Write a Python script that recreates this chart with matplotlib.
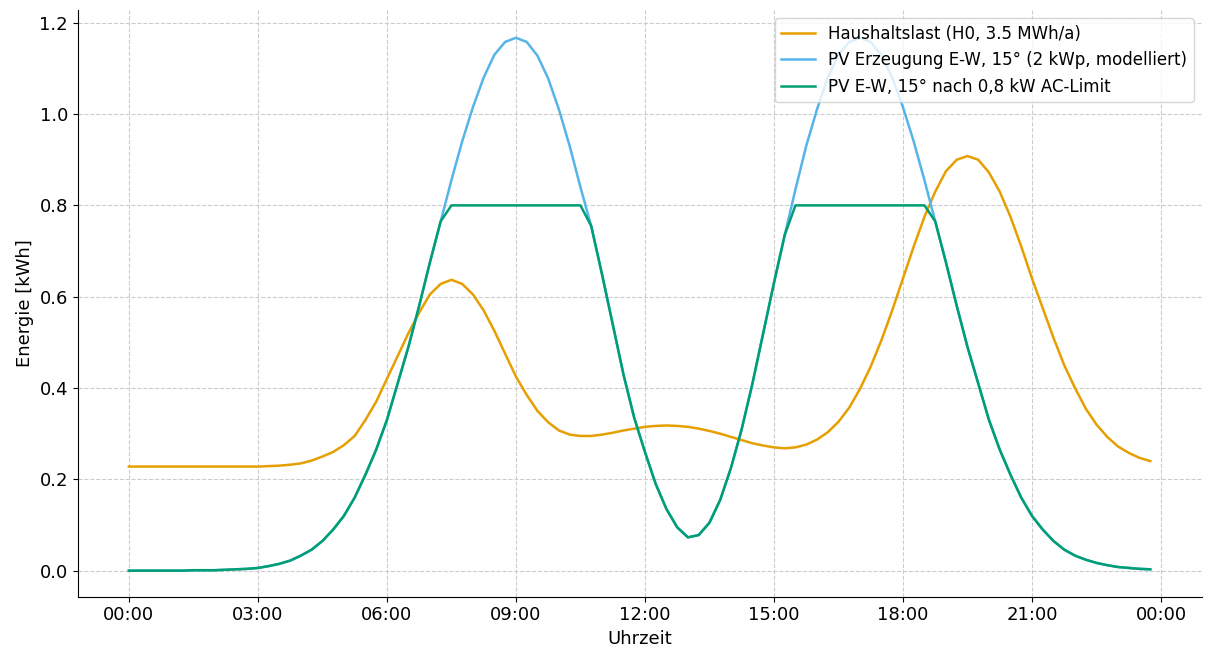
import numpy as np
import matplotlib.pyplot as plt

# 15-minute steps, 00:00 .. 23:45
hours = np.arange(96) * 0.25

load = [0.228] * 12 + [
    0.228, 0.229, 0.230, 0.232, 0.235, 0.241, 0.250, 0.260,
    0.275, 0.295, 0.330, 0.370, 0.420, 0.470, 0.520, 0.565,
    0.605, 0.628, 0.637, 0.628, 0.605, 0.570, 0.525, 0.475,
    0.425, 0.385, 0.350, 0.325, 0.307, 0.298, 0.295, 0.295,
    0.298, 0.302, 0.307, 0.311, 0.315, 0.317, 0.318, 0.317,
    0.315, 0.311, 0.306, 0.300, 0.293, 0.286, 0.279, 0.274,
    0.270, 0.268, 0.270, 0.276, 0.287, 0.303, 0.326, 0.357,
    0.398, 0.447, 0.505, 0.570, 0.640, 0.710, 0.775, 0.830,
    0.875, 0.900, 0.908, 0.900, 0.872, 0.830, 0.775, 0.710,
    0.640, 0.575, 0.510, 0.450, 0.400, 0.355, 0.320, 0.293,
    0.272, 0.258, 0.247, 0.240,
]

pv = [
    0, 0, 0, 0, 0, 0, 0.001, 0.001, 0.001, 0.002, 0.003, 0.004,
    0.006, 0.010, 0.015, 0.022, 0.033, 0.046, 0.065, 0.090,
    0.120, 0.160, 0.210, 0.265, 0.330, 0.410, 0.490, 0.580,
    0.675, 0.765, 0.855, 0.940, 1.015, 1.080, 1.130, 1.158,
    1.167, 1.158, 1.128, 1.078, 1.010, 0.930, 0.840, 0.755,
    0.650, 0.540, 0.430, 0.335, 0.260, 0.190, 0.135, 0.095,
    0.073, 0.078, 0.105, 0.155, 0.225, 0.310, 0.410, 0.520,
    0.630, 0.735, 0.835, 0.930, 1.010, 1.080, 1.130, 1.158,
    1.167, 1.158, 1.128, 1.080, 1.015, 0.940, 0.855, 0.765,
    0.675, 0.580, 0.490, 0.410, 0.330, 0.265, 0.210, 0.160,
    0.120, 0.090, 0.065, 0.046, 0.033, 0.024, 0.017, 0.012,
    0.008, 0.006, 0.004, 0.003,
]
AC_LIMIT = 0.8
pv_limited = np.minimum(pv, AC_LIMIT)

xticks = [0, 3, 6, 9, 12, 15, 18, 21, 24]
xticklabels = ["00:00", "03:00", "06:00", "09:00", "12:00", "15:00", "18:00", "21:00", "00:00"]

fig, ax = plt.subplots(figsize=(12.14, 6.63), dpi=100)
ax.plot(hours, load, color="#E69F00", linewidth=1.8, label="Haushaltslast (H0, 3.5 MWh/a)")
ax.plot(hours, pv, color="#56B4E9", linewidth=1.8, label="PV Erzeugung E-W, 15° (2 kWp, modelliert)")
ax.plot(hours, pv_limited, color="#009E73", linewidth=1.8, label="PV E-W, 15° nach 0,8 kW AC-Limit")

ax.set_xticks(xticks)
ax.set_xticklabels(xticklabels)
ax.set_xlim(-1.19, 24.95)
ax.set_ylim(-0.057, 1.228)
ax.set_yticks(np.arange(0, 1.21, 0.2))
ax.tick_params(labelsize=13)
ax.set_xlabel("Uhrzeit", fontsize=13)
ax.set_ylabel("Energie [kWh]", fontsize=13)
ax.grid(True, linestyle="--", color="#cccccc", linewidth=0.8)
ax.spines["top"].set_visible(False)
ax.spines["right"].set_visible(False)
ax.legend(loc="upper right", fontsize=12)

plt.subplots_adjust(left=0.064, right=0.99, top=0.985, bottom=0.1)
plt.savefig("out.png", dpi=100)
